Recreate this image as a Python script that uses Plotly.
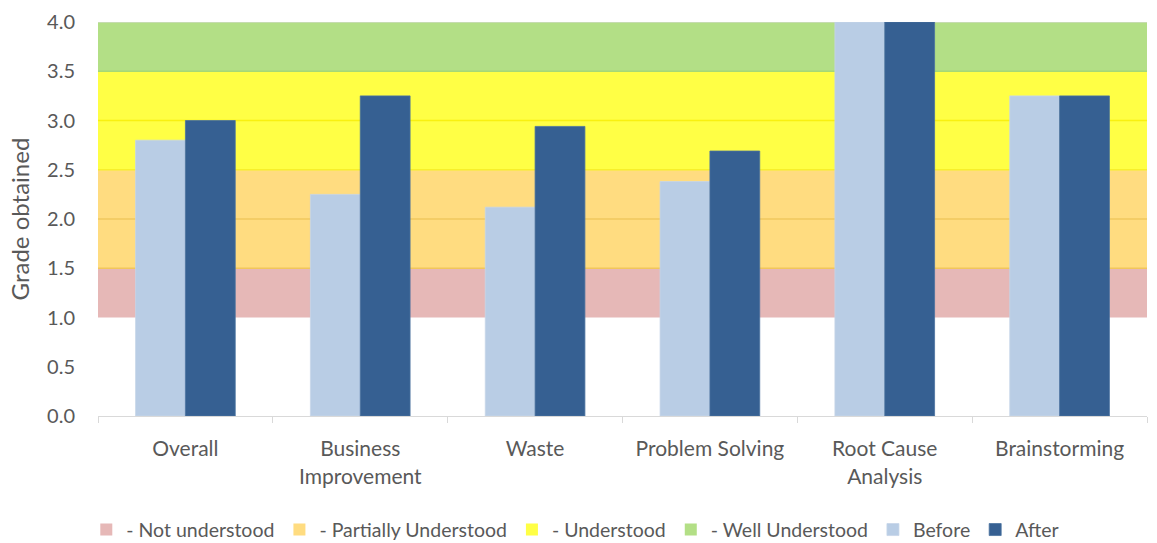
import plotly.graph_objects as go

# Understanding grades per topic, before and after training
categories = ["Overall", "Business<br>Improvement", "Waste", "Problem Solving",
              "Root Cause<br>Analysis", "Brainstorming"]
before = [2.8, 2.25, 2.12, 2.38, 4.0, 3.25]
after = [3.0, 3.25, 2.94, 2.69, 4.0, 3.25]

# Grade bands: (label, lower, upper, fill colour, edge colour)
bands = [
    ("- Not understood", 1.0, 1.5, "#E6B8B7", "#E6B8B7"),
    ("- Partially Understood", 1.5, 2.5, "#FFDC80", "#F2C65A"),
    ("- Understood", 2.5, 3.5, "#FFFF45", "#F7EF2A"),
    ("- Well Understood", 3.5, 4.0, "#B3DF86", "#A6D874"),
]
mid_lines = [(2.0, "#F0C85E"), (3.0, "#F8F010")]

TEXT = "#595959"
FONT = "Lato"

fig = go.Figure()

shapes = []
for name, lo, hi, fill, edge in bands:
    shapes.append(dict(type="rect", xref="paper", yref="y", x0=0, x1=1, y0=lo, y1=hi,
                       fillcolor=fill, line_width=0, layer="below"))
    # legend swatch for the band
    fig.add_trace(go.Scatter(x=[None], y=[None], mode="markers", name=name,
                             marker=dict(symbol="square", size=12, color=fill)))
for name, lo, hi, fill, edge in bands[1:]:
    shapes.append(dict(type="line", xref="paper", yref="y", x0=0, x1=1, y0=lo, y1=lo,
                       line=dict(color=edge, width=1.5), layer="below"))
for yv, col in mid_lines:
    shapes.append(dict(type="line", xref="paper", yref="y", x0=0, x1=1, y0=yv, y1=yv,
                       line=dict(color=col, width=1.5), layer="below"))
shapes.append(dict(type="line", xref="paper", yref="y", x0=0, x1=1, y0=4.0, y1=4.0,
                   line=dict(color="#D9D9D9", width=1), layer="below"))

fig.add_trace(go.Bar(x=categories, y=before, name="Before",
                     marker=dict(color="#B9CDE5", line=dict(color="#C6D5E8", width=0.8))))
fig.add_trace(go.Bar(x=categories, y=after, name="After",
                     marker=dict(color="#366092", line=dict(color="#4A72A0", width=0.8))))

fig.update_layout(
    width=1157, height=543,
    margin=dict(l=98, r=10, t=22, b=127, autoexpand=False),
    paper_bgcolor="white", plot_bgcolor="white",
    barmode="group", bargap=0.43, bargroupgap=0,
    shapes=shapes,
    font=dict(family=FONT, size=19, color=TEXT),
    showlegend=True,
    legend=dict(orientation="h", x=0.455, xanchor="center", y=-0.289, yanchor="middle",
                font=dict(family=FONT, size=19.5, color=TEXT), itemwidth=30,
                tracegroupgap=0),
    xaxis=dict(type="category", categoryorder="array", categoryarray=categories,
               range=[-0.5, len(categories) - 0.5],
               showgrid=False, showline=True, linecolor="#D9D9D9", linewidth=1,
               ticks="outside", tickson="boundaries", ticklen=6, tickcolor="#D9D9D9",
               ticklabelstandoff=14,
               tickfont=dict(size=21, color=TEXT)),
    yaxis=dict(range=[0, 4], dtick=0.5, tickformat=".1f", showgrid=False,
               zeroline=False, showline=False, ticks="", ticklabelstandoff=22,
               tickfont=dict(size=20, color=TEXT),
               title=dict(text="Grade obtained", font=dict(size=24, color=TEXT), standoff=10)),
)

fig.write_html("out.html")
